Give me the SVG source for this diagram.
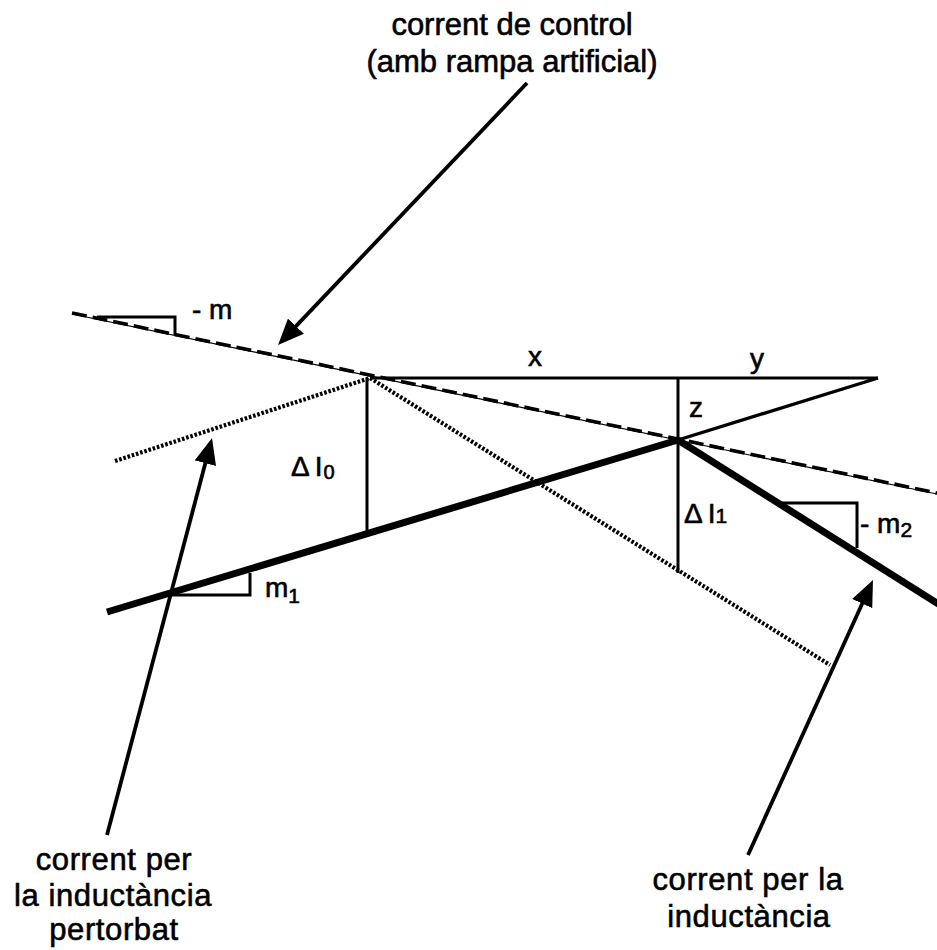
<svg xmlns="http://www.w3.org/2000/svg" width="937" height="950" viewBox="0 0 937 950">
<defs>
<style>
text{font-family:"Liberation Sans",Arial,Helvetica,sans-serif;fill:#000;stroke:#000;stroke-width:0.6}
.lbl{font-size:31px;text-anchor:middle}
.sm{font-size:28px}
.thin{stroke:#000;stroke-width:3;fill:none}
.hair{stroke:#000;stroke-width:1.2;fill:none}
.thick{stroke:#000;stroke-width:7;fill:none;stroke-linecap:butt}
.dot{stroke:#000;stroke-width:4.2;fill:none;stroke-dasharray:2.6 1.8}
.dash{stroke:#000;stroke-width:3.6;fill:none;stroke-dasharray:15 6}
.arr{stroke:#000;stroke-width:3.8;fill:none}
</style>
<marker id="ah" viewBox="0 0 26 22" markerWidth="26" markerHeight="22" markerUnits="userSpaceOnUse" refX="13" refY="11" orient="auto">
<path d="M0,0 L26,11 L0,22 z" fill="#000"/>
</marker>
</defs>
<rect width="937" height="950" fill="#fff"/>

<g id="waveforms">
<line class="hair" x1="72" y1="314" x2="937" y2="494"/>
<line class="dash" x1="72" y1="313" x2="937" y2="493"/>
<polyline class="thin" points="97,317 175,317 175,335"/>
<polyline class="dot" points="115,461 370,378 830,665"/>
<line class="thick" x1="107" y1="612" x2="678" y2="440"/>
<line class="thick" x1="678" y1="440" x2="940" y2="605"/>
<polyline class="thin" points="168,595 250,595 250,573"/>
<polyline class="thin" points="782,503 857,503 857,548"/>
<line class="thin" x1="370" y1="378" x2="878" y2="378"/>
<line class="thin" x1="878" y1="378" x2="678" y2="440" style="stroke-width:3.4"/>
<line class="thin" x1="367" y1="378" x2="367" y2="533"/>
<line class="thin" x1="678" y1="378" x2="678" y2="573"/>
</g>

<g id="labels">
<text class="sm" x="192" y="319">- m</text>
<text class="sm" x="528" y="366">x</text>
<text class="sm" x="750" y="368">y</text>
<text class="sm" x="689" y="417">z</text>
<text x="291" y="476" style="font-size:28px">Δ<tspan dx="5">I</tspan><tspan style="font-size:20px" dx="1" dy="3">0</tspan></text>
<text x="684" y="523" style="font-size:28px">Δ<tspan dx="5">I</tspan><tspan style="font-size:21px" dx="0">1</tspan></text>
<text class="sm" x="265" y="597">m<tspan style="font-size:21px" dy="6">1</tspan></text>
<text class="sm" x="860" y="533">- m<tspan style="font-size:21px" dy="4">2</tspan></text>
</g>

<g id="control-label">
<text class="lbl" x="512" y="35">corrent de control</text>
<text class="lbl" x="512" y="72">(amb rampa artificial)</text>
</g>
<g id="perturbed-label">
<text class="lbl" x="114" y="870" letter-spacing="0.6">corrent per</text>
<text class="lbl" x="113" y="906" letter-spacing="0.6">la inductància</text>
<text class="lbl" x="114" y="940" letter-spacing="0.6">pertorbat</text>
</g>
<g id="inductor-label">
<text class="lbl" x="748" y="890" letter-spacing="0.6">corrent per la</text>
<text class="lbl" x="749" y="927" letter-spacing="0.6">inductància</text>
</g>

<g id="connectors">
<line class="arr" x1="527" y1="83" x2="287" y2="335.6" marker-end="url(#ah)"/>
<line class="arr" x1="107" y1="835" x2="208.7" y2="450.6" marker-end="url(#ah)"/>
<line class="arr" x1="748" y1="855" x2="867.6" y2="591.8" marker-end="url(#ah)"/>
</g>
</svg>
